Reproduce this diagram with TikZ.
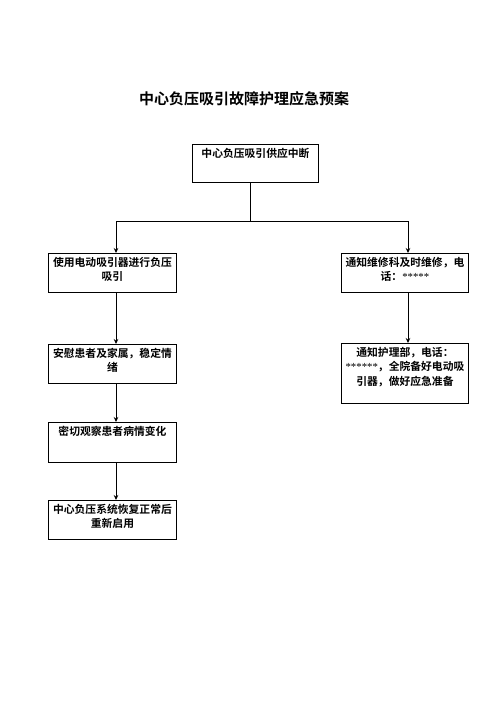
\documentclass[tikz,border=0pt]{standalone}
\usepackage{fontspec}
\setmainfont{Noto Sans CJK SC}[BoldFont={Noto Sans CJK SC Bold}]
\newfontfamily\starfont{Liberation Serif}
\usetikzlibrary{arrows.meta}

\tikzset{
  stepbox/.style={draw, line width=0.9pt, anchor=north west, align=center,
    inner xsep=2pt, inner ysep=4pt, text height=9pt,
    font=\fontsize{10.8}{14.5}\selectfont\bfseries},
  flow/.style={line width=0.8pt, -{Stealth[length=5pt,width=4.5pt]}},
}

\begin{document}
\begin{tikzpicture}[x=1pt,y=-1pt]
            \useasboundingbox (0,0) rectangle (496,702);
            % Nodes
            \node (title) at (244,99) {\fontsize{15}{18}\selectfont\bfseries 中心负压吸引故障护理应急预案};
            \node[stepbox, text width=122pt, text depth=21pt] (cut) at (192,144) {中心负压吸引供应中断};
            \node[stepbox, text width=124pt, text depth=22pt] (pump) at (48,253) {使用电动吸引器进行负压\\吸引};
            \node[stepbox, text width=123pt, text depth=22pt] (repair) at (341,253) {通知维修科及时维修，电\\话：{\starfont\mdseries *****}};
            \node[stepbox, text width=124pt, text depth=22pt] (calm) at (48,344) {安慰患者及家属，稳定情\\绪};
            \node[stepbox, text width=123pt, text depth=43pt] (nurse) at (341,343) {通知护理部，电话：\\{\starfont\mdseries ******}，全院备好电动吸\\引器，做好应急准备};
            \node[stepbox, text width=124pt, text depth=23pt] (watch) at (48,422) {密切观察患者病情变化};
            \node[stepbox, text width=124pt, text depth=22pt] (restart) at (48,500) {中心负压系统恢复正常后\\重新启用};
            \coordinate (split) at (250,221);
            \coordinate (leftcol) at (116,0);
            \coordinate (rightcol) at (408,0);

            % Arrows
            \draw[line width=0.8pt] (cut.south -| split) -- (split);
            \draw[flow] (split) -| (pump.north -| leftcol);
            \draw[flow] (split) -| (repair.north -| rightcol);
            \draw[flow] (pump.south -| leftcol) -- (calm.north -| leftcol);
            \draw[flow] (calm.south -| leftcol) -- (watch.north -| leftcol);
            \draw[flow] (watch.south -| leftcol) -- (restart.north -| leftcol);
            \draw[flow] (repair.south -| rightcol) -- (nurse.north -| rightcol);
          \end{tikzpicture}
\end{document}
